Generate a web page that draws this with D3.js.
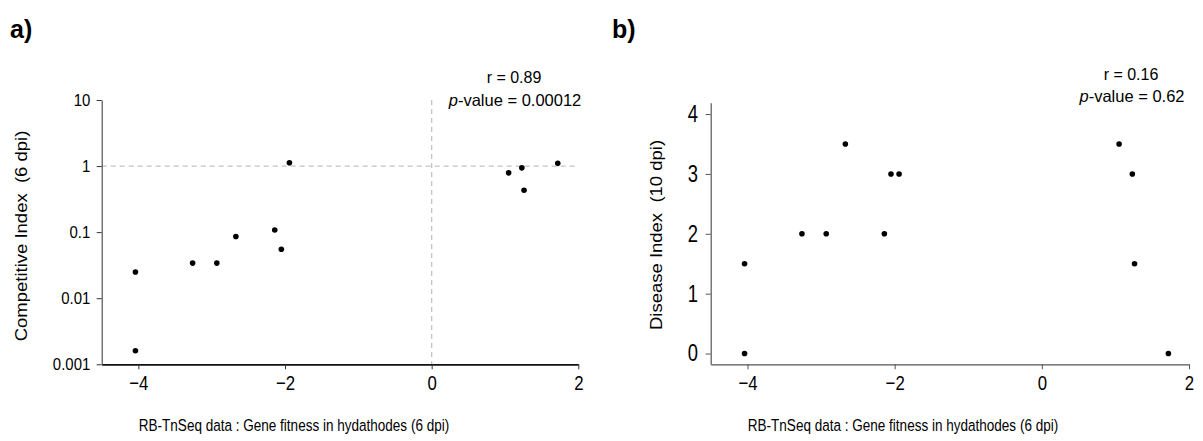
<!DOCTYPE html>
<html>
<head>
<meta charset="utf-8">
<script src="https://cdn.jsdelivr.net/npm/d3@7"></script>
<style>
  html, body { margin: 0; padding: 0; background: #fff; }
  svg { display: block; }
  text { font-family: "Liberation Sans", Arial, sans-serif; fill: #000; white-space: pre; }
</style>
</head>
<body>
<svg id="chart" width="1203" height="441"></svg>
<script>
// ---- data ----
const geneFitness    = [-4.04, -4.04, -3.26, -2.93, -2.67, -2.14, -2.05, -1.94, 1.05, 1.23, 1.26, 1.72];
const competitiveIdx = [0.025, 0.0016, 0.034, 0.034, 0.086, 0.108, 0.055, 1.12, 0.79, 0.94, 0.43, 1.10];
const diseaseIdx     = [1.5, 0, 2, 2, 3.5, 2, 3, 3, 3.5, 3, 1.5, 0];
const xTicks  = [-4, -2, 0, 2];
const yTicksA = [0.001, 0.01, 0.1, 1, 10];
const yTickLabelsA = ["0.001", "0.01", "0.1", "1", "10"];
const yTicksB = [0, 1, 2, 3, 4];
const xTitle = "RB-TnSeq data : Gene fitness in hydathodes (6 dpi)";
const yTitleA = "Competitive Index  (6 dpi)";
const yTitleB = "Disease Index  (10 dpi)";

const FONT = "Liberation Sans, Arial, sans-serif";
const svg = d3.select("#chart");

function styleTicks(ax, size, sx) {
  ax.selectAll(".tick text").attr("font-size", size).attr("font-family", FONT).attr("fill", "#000")
    .attr("transform", `scale(${sx},1)`);
}

// ---------- Panel a ----------
const xa = d3.scaleLinear().domain([-4.5, 2]).range([101.7, 578.3]);
const ya = d3.scaleLog().domain([0.001, 10]).range([364.3, 100]);

const ga = svg.append("g");
ga.append("line").attr("x1", xa(-4.5)).attr("x2", xa(2)).attr("y1", ya(1)).attr("y2", ya(1))
  .attr("stroke", "#c4c4c4").attr("stroke-width", 1.3).attr("stroke-dasharray", "5,4");
ga.append("line").attr("x1", xa(0)).attr("x2", xa(0)).attr("y1", ya(10)).attr("y2", ya(0.001))
  .attr("stroke", "#c4c4c4").attr("stroke-width", 1.3).attr("stroke-dasharray", "5,4");

const axA_x = ga.append("g").attr("transform", `translate(0,${ya(0.001)})`)
  .call(d3.axisBottom(xa).tickValues(xTicks).tickSize(5).tickSizeOuter(0).tickPadding(6).tickFormat(d3.format("d")));
axA_x.select(".domain").attr("stroke", "#111").attr("stroke-width", 1.8);
axA_x.selectAll(".tick line").attr("stroke", "#333");
styleTicks(axA_x, 21, 0.8);

const axA_y = ga.append("g").attr("transform", `translate(${xa(-4.5)},0)`)
  .call(d3.axisLeft(ya).tickValues(yTicksA).tickSize(5).tickSizeOuter(0).tickPadding(8)
    .tickFormat((d, i) => yTickLabelsA[i]));
axA_y.select(".domain").attr("stroke", "#333").attr("stroke-width", 1);
axA_y.selectAll(".tick line").attr("stroke", "#333");
styleTicks(axA_y, 17, 0.88);

ga.selectAll("circle").data(geneFitness).join("circle")
  .attr("cx", d => xa(d)).attr("cy", (d, i) => ya(competitiveIdx[i])).attr("r", 2.8).attr("fill", "#000");

ga.append("text").attr("x", 10).attr("y", 38).attr("font-size", 25).attr("font-weight", "bold").text("a)");
ga.append("text").attr("x", 514).attr("y", 83).attr("font-size", 16).attr("text-anchor", "middle").text("r = 0.89");
const pa = ga.append("text").attr("x", 515).attr("y", 105.5).attr("font-size", 16.5).attr("text-anchor", "middle");
pa.append("tspan").attr("font-style", "italic").text("p");
pa.append("tspan").text("-value = 0.00012");

ga.append("text").attr("transform", "translate(294,431) scale(0.82,1)").attr("font-size", 16.5)
  .attr("text-anchor", "middle").text(xTitle);
ga.append("text").attr("transform", "translate(27,236) rotate(-90) scale(1,0.85)").attr("font-size", 18.5)
  .attr("text-anchor", "middle").text(yTitleA);

// ---------- Panel b ----------
const xb = d3.scaleLinear().domain([-4.5, 2]).range([710.7, 1189]);
const yb = d3.scaleLinear().domain([-0.18, 4.19]).range([364.3, 102.7]);

const gb = svg.append("g");
const axB_x = gb.append("g").attr("transform", `translate(0,${yb(-0.18)})`)
  .call(d3.axisBottom(xb).tickValues(xTicks).tickSize(5).tickSizeOuter(0).tickPadding(6).tickFormat(d3.format("d")));
axB_x.select(".domain").attr("stroke", "#555").attr("stroke-width", 1.2);
axB_x.selectAll(".tick line").attr("stroke", "#555");
styleTicks(axB_x, 21, 0.8);

const axB_y = gb.append("g").attr("transform", `translate(${xb(-4.5)},0)`)
  .call(d3.axisLeft(yb).tickValues(yTicksB).tickSize(5).tickSizeOuter(0).tickPadding(11).tickFormat(d3.format("d")));
axB_y.select(".domain").attr("stroke", "#555").attr("stroke-width", 1.2);
axB_y.selectAll(".tick line").attr("stroke", "#555");
styleTicks(axB_y, 23, 0.8);

gb.selectAll("circle").data(geneFitness).join("circle")
  .attr("cx", d => xb(d)).attr("cy", (d, i) => yb(diseaseIdx[i])).attr("r", 2.8).attr("fill", "#000");

gb.append("text").attr("x", 612).attr("y", 38).attr("font-size", 25).attr("font-weight", "bold").text("b)");
gb.append("text").attr("x", 1131).attr("y", 80).attr("font-size", 16).attr("text-anchor", "middle").text("r = 0.16");
const pb = gb.append("text").attr("x", 1132).attr("y", 101.5).attr("font-size", 16.5).attr("text-anchor", "middle");
pb.append("tspan").attr("font-style", "italic").text("p");
pb.append("tspan").text("-value = 0.62");

gb.append("text").attr("transform", "translate(903,431) scale(0.82,1)").attr("font-size", 16.5)
  .attr("text-anchor", "middle").text(xTitle);
gb.append("text").attr("transform", "translate(662,235) rotate(-90) scale(1,0.85)").attr("font-size", 18.5)
  .attr("text-anchor", "middle").text(yTitleB);
</script>
</body>
</html>
